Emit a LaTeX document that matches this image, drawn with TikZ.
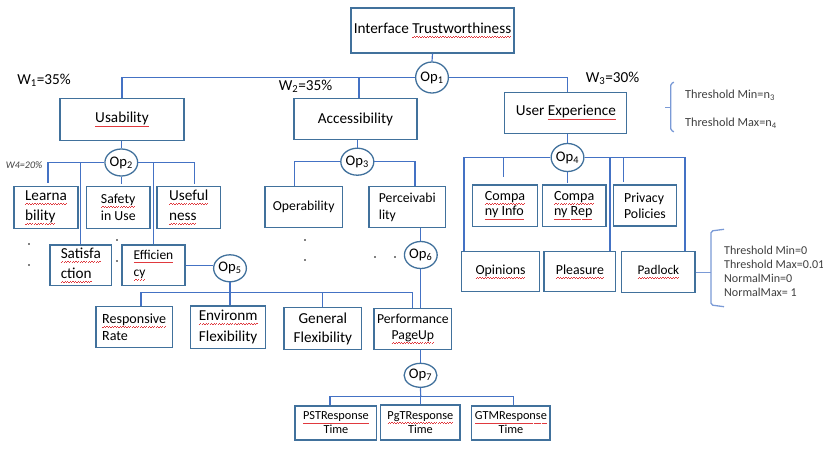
\documentclass[tikz,border=0pt]{standalone}
\usepackage{fontspec}
\setmainfont{Carlito}
\usetikzlibrary{shapes.geometric,calc}

\definecolor{boxblue}{HTML}{41719C}
\definecolor{lineblue}{HTML}{4472C4}
\definecolor{braceblue}{HTML}{7A9AD6}
\definecolor{spellred}{HTML}{E0393E}
\definecolor{notegray}{HTML}{404040}

\newcommand\spl[1]{\setbox0=\hbox{#1}\rlap{\color{spellred}\hbox to \wd0{\xleaders\hbox{\rule[-3.4pt]{1.1pt}{0.6pt}\rule[-2.8pt]{1.1pt}{0.6pt}}\hfil}}\box0}
\newcommand\fs[2]{\fontsize{#1}{#2}\selectfont}

\tikzset{
  blk/.style 2 args={draw=boxblue, line width=1pt, fill=white, inner sep=0pt, align=center,
    minimum width=#1*0.03cm, minimum height=#2*0.03cm},
  opr/.style={ellipse, draw=boxblue, line width=1.1pt, fill=white, inner sep=0pt,
    minimum width=32*0.03cm, minimum height=27*0.03cm, font=\fs{12.5}{14}},
  lnk/.style={draw=lineblue, line width=1pt},
  brc/.style={draw=braceblue, line width=1.1pt, rounded corners=1.5pt},
  note/.style={text=notegray, anchor=west}
}

\begin{document}
\begin{tikzpicture}[x=0.03cm,y=-0.03cm]
\useasboundingbox (0,0) rectangle (823,448);

\node[blk={163}{45}, font=\fs{13}{17}] (tw) at (432.5,30.5) {Interface \spl{Trustworthiness}};
\node[opr, minimum height=31*0.03cm] (op1) at (432,77.5) {Op\textsubscript{1}};

\node[blk={124}{42}, font=\fs{13}{17}] (usab) at (122,119.7) {\spl{Usability}};
\node[blk={123}{41}, font=\fs{13}{17}] (acc) at (355.5,119) {Accessibility};
\node[blk={122}{41}, font=\fs{13}{17}] (ux) at (565.8,112.7) {User \spl{Experience}};

\node[font=\fs{13}{15}] (w1) at (44,80) {W\textsubscript{1}=35\%};
\node[font=\fs{13}{15}] (w2) at (305.5,86) {W\textsubscript{2}=35\%};
\node[font=\fs{13}{15}] (w3) at (612.5,78) {W\textsubscript{3}=30\%};
\node[font=\fs{8.6}{10}\itshape, text=notegray, anchor=east] (w4) at (46.5,165) {W4=20\%};

% usability
\node[opr, minimum width=31*0.03cm] (op2) at (121.3,162.5) {Op\textsubscript{2}};
\node[blk={64}{41.6}, font=\fs{13}{17}, align=left] (learn) at (46,207.5) {\spl{Learna}\\\spl{bility}};
\node[blk={63.3}{41.6}, font=\fs{11.8}{14.5}, align=left] (safe) at (118.3,207.5) {\spl{Safety}\\in Use};
\node[blk={63.7}{41.6}, font=\fs{13}{17}, align=left] (usef) at (188.8,207.5) {\spl{Useful}\\\spl{ness}};
\node[blk={61.7}{40.7}, font=\fs{13}{17}, align=left] (satis) at (80.8,265.3) {\spl{Satisfa}\\\spl{ction}};
\node[blk={63}{40.7}, font=\fs{11.5}{15}, align=left] (effic) at (153.5,265.3) {\spl{Efficien}\\\spl{cy}};
\node[opr] (op5) at (230,268.3) {Op\textsubscript{5}};

% accessibility
\node[opr, minimum width=33*0.03cm] (op3) at (357.3,161.7) {Op\textsubscript{3}};
\node[blk={77.3}{41}, font=\fs{11.7}{14}] (oper) at (303.7,207.2) {Operability};
\node[blk={76.7}{41}, font=\fs{11.7}{14.2}, align=left] (perc) at (407.3,207.2) {Perceivabi\\lity};
\node[opr] (op6) at (420.8,255) {Op\textsubscript{6}};

% user experience
\node[opr, minimum height=28*0.03cm] (op4) at (567.5,157.5) {Op\textsubscript{4}};
\node[blk={64.6}{41.7}, font=\fs{12}{13}, align=left] (cinfo) at (505,205.8) {\spl{Compa}\\\spl{ny Info}};
\node[blk={63.7}{41.7}, font=\fs{12}{13}, align=left] (crep) at (574.2,205.8) {\spl{Compa}\\\spl{ny Rep}};
\node[blk={63.4}{41}, font=\fs{11.8}{13.5}, align=left] (priv) at (645,205.5) {Privacy\\Policies};
\node[blk={77.6}{40}, font=\fs{11.8}{14}] (opin) at (500.5,271.7) {\spl{Opinions}};
\node[blk={71.7}{40}, font=\fs{11.8}{14}] (pleas) at (579.9,271.7) {\spl{Pleasure}};
\node[blk={73.3}{41}, font=\fs{11.3}{14}] (padl) at (658.4,272.2) {\spl{Padlock}};

% efficiency
\node[blk={76.3}{41}, font=\fs{12}{14.2}, align=left] (resp) at (134.2,327.2) {\spl{Responsive}\\Rate};
\node[blk={75}{42.3}, font=\fs{13}{17.7}] (env) at (228.2,327.2) {\spl{Environm}\\Flexibility};
\node[blk={77.7}{41.6}, font=\fs{13}{16.2}] (gen) at (322.9,328.5) {General\\Flexibility};
\node[blk={77.7}{41}, font=\fs{11.7}{14.2}] (perf) at (412.9,328.8) {Performance\\\spl{PageUp}};
\node[opr, minimum height=24*0.03cm] (op7) at (420.5,375.3) {Op\textsubscript{7}};
\node[blk={81.7}{34}, font=\fs{10.5}{12}] (pst) at (335.9,423) {\spl{PSTResponse}\\Time};
\node[blk={79.3}{35}, font=\fs{10.5}{12}] (pgt) at (420.4,422.5) {\spl{PgTResponse}\\Time};
\node[blk={78.3}{34}, font=\fs{10.5}{12}] (gtm) at (510.9,423) {\spl{GTMResponse}\\Time};

\node[note, font=\fs{10.5}{12}] (thmin) at (681,95) {Threshold Min=n\textsubscript{3}};
\node[note, font=\fs{10.5}{12}] (thmax) at (681,123) {Threshold Max=n\textsubscript{4}};
\node[note, font=\fs{10.3}{12.2}, align=left] (padlim) at (720,271.4) {Threshold Min=0\\Threshold Max=0.01\\NormalMin=0\\NormalMax= 1};

\coordinate (bar5) at (230,292.7);
\coordinate (bar7) at (420.7,396.7);
\coordinate (brc2) at (711,268.3);

\draw[lnk] (tw.south) -- (op1.north);
\draw[lnk] (op1.west) -| (usab.north);
\draw[lnk] ($(acc.north)+(3.5,0)$) |- (op1.west);
\draw[lnk] (op1.east) -| ($(ux.north)+(2,0)$);

\draw[lnk] (op2.north |- usab.south) -- (op2.north);
\draw[lnk, shorten >=3pt] (op2.west) -| ($(learn.north)+(2,0)$);
\draw[lnk] (op2.west) -| (satis.north);
\draw[lnk, shorten >=2pt] (op2.south) -- (op2.south |- safe.north);
\draw[lnk] (op2.east) -| (effic.north);
\draw[lnk, shorten >=2pt] (op2.east) -| ($(usef.north)+(6,0)$);

\draw[lnk] (op3.north |- acc.south) -- (op3.north);
\draw[lnk] (op3.west) -| ($(oper.north)+(-9.4,0)$);
\draw[lnk] (op3.east) -| ($(perc.north)+(7.7,0)$);
\draw[lnk] (op6.north |- perc.south) -- (op6.north);
\draw[lnk] (op6.south) -- (op6.south |- perf.north);

\draw[lnk] (effic.east) -- (effic.east -| op5.west);
\draw[lnk] (op5.south) -- (op5.south |- env.north);
\draw[lnk] ($(resp.north)+(6.8,0)$) |- (bar5) -| (perf.north);
\draw[lnk] (bar5) -| (gen.north);

\draw[lnk] (op7.north |- perf.south) -- (op7.north);
\draw[lnk] (op7.south) -- (bar7);
\draw[lnk] ($(pst.north)+(-5.9,0)$) |- (bar7) -| ($(gtm.north)+(2.4,0)$);
\draw[lnk] (bar7) -- (bar7 |- pgt.north);

\draw[lnk] (op4.north |- ux.south) -- (op4.north);
\draw[lnk] (op4.west) -| ($(opin.north)+(-36.5,0)$);
\draw[lnk, shorten <=6.5pt] ($(cinfo.north)+(-1.7,0)$) |- (op4.west);
\draw[lnk, shorten >=1.5pt] (op4.south) -- (op4.south |- crep.north);
\draw[lnk] (op4.east) -| ($(pleas.north)+(30.1,0)$);
\draw[lnk, shorten <=2pt] ($(priv.north)+(-21.7,0)$) |- (op4.east);
\draw[lnk] (op4.east) -| ($(padl.north)+(26.6,0)$);

\draw[brc] (674,82.3) -- (670.7,83.5) -- (670.7,130.5) -- (674,131.7);
\draw[brc] (665,107.3) -- (670.7,107.3);
\draw[brc] (724,229.3) -- (711,231) -- (711,305) -- (724,306.7);
\draw[brc] (padl.east) -- (padl.east -| brc2);

\foreach \x/\y in {29/244, 29/265, 117/240, 117/261, 305/240, 305/260, 375/257, 395/257}
  \fill (\x,\y) circle (0.7pt);
\end{tikzpicture}
\end{document}
